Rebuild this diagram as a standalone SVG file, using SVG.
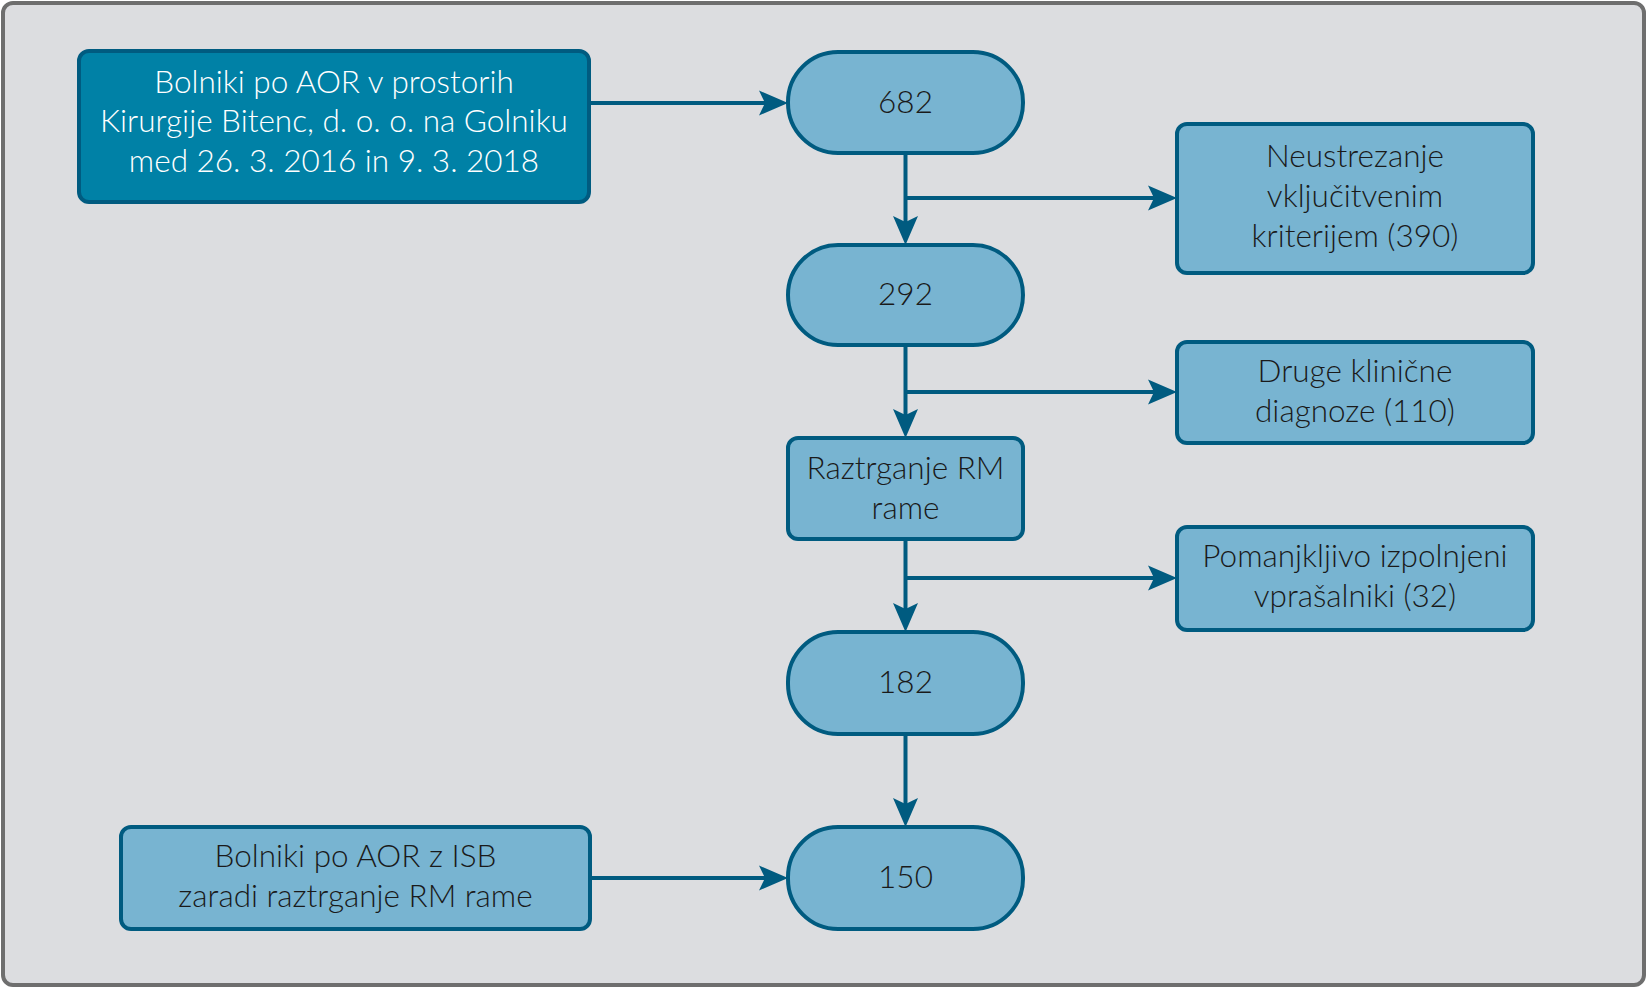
<svg xmlns="http://www.w3.org/2000/svg" width="1648" height="989" viewBox="0 0 1648 989">
<style>
.bg{fill:#dcdde0;stroke:#6e6e6e;stroke-width:4}
.n{fill:#78b4d1;stroke:#005b80;stroke-width:4}
.dark{fill:#0081a6;stroke:#005b80;stroke-width:4}
.t{font-family:"Lato","Liberation Sans",sans-serif;font-weight:300;font-size:31.5px;fill:#1a1a1a;text-anchor:middle}
.w{fill:#ffffff}
.c{fill:none;stroke:#005b80;stroke-width:4}
</style>
<defs>
<marker id="ah" markerUnits="userSpaceOnUse" viewBox="-2 -14 34 28" markerWidth="34" markerHeight="28" refX="6" refY="0" orient="auto">
<path d="M0,-12.5 L29,0 L0,12.5 L6,0 Z" fill="#005b80"/>
</marker>
</defs>
<rect class="bg" x="3" y="3" width="1641" height="982" rx="10"/>
<g id="connectors">
<path class="c" d="M589,103 H765" marker-end="url(#ah)"/>
<path class="c" d="M905.5,153 V222" marker-end="url(#ah)"/>
<path class="c" d="M905.5,198 H1154" marker-end="url(#ah)"/>
<path class="c" d="M905.5,345 V415" marker-end="url(#ah)"/>
<path class="c" d="M905.5,392 H1154" marker-end="url(#ah)"/>
<path class="c" d="M905.5,539 V609" marker-end="url(#ah)"/>
<path class="c" d="M905.5,578 H1154" marker-end="url(#ah)"/>
<path class="c" d="M905.5,734 V804" marker-end="url(#ah)"/>
<path class="c" d="M590,878 H765" marker-end="url(#ah)"/>
</g>
<g id="start">
<rect class="dark" x="79" y="51" width="510" height="151" rx="10"/>
<text class="t w" x="334" y="93">Bolniki po AOR v prostorih</text>
<text class="t w" x="334" y="132">Kirurgije Bitenc, d. o. o. na Golniku</text>
<text class="t w" x="334" y="172">med 26. 3. 2016 in 9. 3. 2018</text>
</g>
<g id="n682">
<rect class="n" x="788" y="52" width="235" height="101" rx="50"/>
<text class="t" x="905.5" y="113">682</text>
</g>
<g id="excl1">
<rect class="n" x="1177" y="124" width="356" height="149" rx="10"/>
<text class="t" x="1355" y="167">Neustrezanje</text>
<text class="t" x="1355" y="207">vključitvenim</text>
<text class="t" x="1355" y="247">kriterijem (390)</text>
</g>
<g id="n292">
<rect class="n" x="788" y="245" width="235" height="100" rx="50"/>
<text class="t" x="905.5" y="305">292</text>
</g>
<g id="excl2">
<rect class="n" x="1177" y="342" width="356" height="101" rx="10"/>
<text class="t" x="1355" y="382">Druge klinične</text>
<text class="t" x="1355" y="422">diagnoze (110)</text>
</g>
<g id="raz">
<rect class="n" x="788" y="438" width="235" height="101" rx="10"/>
<text class="t" x="905.5" y="479">Raztrganje RM</text>
<text class="t" x="905.5" y="519">rame</text>
</g>
<g id="excl3">
<rect class="n" x="1177" y="527" width="356" height="103" rx="10"/>
<text class="t" x="1355" y="567">Pomanjkljivo izpolnjeni</text>
<text class="t" x="1355" y="607">vprašalniki (32)</text>
</g>
<g id="n182">
<rect class="n" x="788" y="632" width="235" height="102" rx="50"/>
<text class="t" x="905.5" y="693">182</text>
</g>
<g id="n150">
<rect class="n" x="788" y="827" width="235" height="102" rx="50"/>
<text class="t" x="905.5" y="888">150</text>
</g>
<g id="isb">
<rect class="n" x="121" y="827" width="469" height="102" rx="10"/>
<text class="t" x="355.5" y="867">Bolniki po AOR z ISB</text>
<text class="t" x="355.5" y="907">zaradi raztrganje RM rame</text>
</g>
</svg>
